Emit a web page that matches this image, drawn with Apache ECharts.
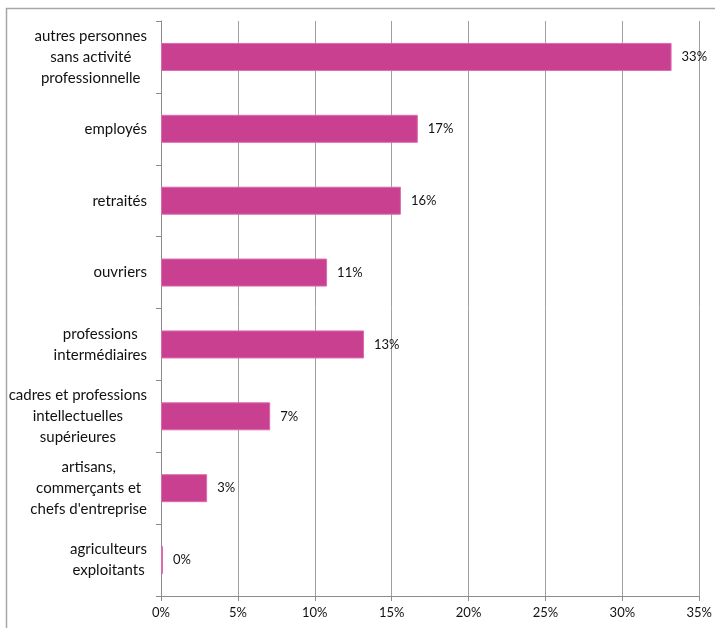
<!DOCTYPE html>
<html>
<head>
<meta charset="utf-8">
<script src="https://cdn.jsdelivr.net/npm/echarts@6/dist/echarts.min.js"></script>
<style>
  html, body { margin: 0; padding: 0; background: #ffffff; }
  #chart { width: 715px; height: 628px; }
</style>
</head>
<body>
<div id="chart"></div>
<script>
// Catégories socioprofessionnelles, de haut en bas
const categories = [
  'autres personnes\nsans activité\nprofessionnelle',
  'employés',
  'retraités',
  'ouvriers',
  'professions\nintermédiaires',
  'cadres et professions\nintellectuelles\nsupérieures',
  'artisans,\ncommerçants et\nchefs d\'entreprise',
  'agriculteurs\nexploitants'
];
// Part de chaque catégorie (%)
const shares = [33.2, 16.7, 15.6, 10.8, 13.2, 7.1, 3.0, 0.13];
// Graduations de l'axe des valeurs (%)
const ticks = [0, 5, 10, 15, 20, 25, 30, 35];

const FONT = 'Lato';
const chart = echarts.init(document.getElementById('chart'), null, { renderer: 'canvas' });

chart.setOption({
  backgroundColor: '#ffffff',
  animation: false,
  graphic: [{
    type: 'rect',
    shape: { x: 6.5, y: 8.5, width: 760, height: 680 },
    style: { fill: 'none', stroke: '#a6a6a6', lineWidth: 1.5 },
    silent: true
  }],
  grid: { left: 161, right: 12, top: 21, bottom: 32, containLabel: false },
  xAxis: {
    type: 'value',
    min: ticks[0],
    max: ticks[ticks.length - 1],
    interval: ticks[1] - ticks[0],
    axisLine: { show: true, lineStyle: { color: '#8c8c8c', width: 1 } },
    axisTick: { show: true, length: 5, lineStyle: { color: '#8c8c8c' } },
    splitLine: { show: true, lineStyle: { color: '#a0a0a0', width: 1 } },
    axisLabel: {
      formatter: v => v + '%',
      color: '#111111',
      fontFamily: FONT,
      fontSize: 13,
      margin: 10
    }
  },
  yAxis: {
    type: 'category',
    inverse: true,
    data: categories,
    axisLine: { show: true, lineStyle: { color: '#8c8c8c', width: 1 } },
    axisTick: { show: true, length: 5, alignWithLabel: false, lineStyle: { color: '#8c8c8c' } },
    axisLabel: {
      margin: 14,
      formatter: v => v.split('\n').map(l => '{c|' + l + '}').join('\n'),
      rich: {
        c: {
          align: 'center',
          color: '#111111',
          fontFamily: FONT,
          fontSize: 15,
          lineHeight: 21
        }
      }
    }
  },
  series: [{
    type: 'bar',
    data: shares,
    barWidth: 28,
    itemStyle: { color: '#c8408f', borderColor: '#dc6aae', borderWidth: 1 },
    label: {
      show: true,
      position: 'right',
      distance: 10,
      formatter: p => Math.round(p.value) + '%',
      color: '#111111',
      fontFamily: FONT,
      fontSize: 13
    }
  }]
});
</script>
</body>
</html>
